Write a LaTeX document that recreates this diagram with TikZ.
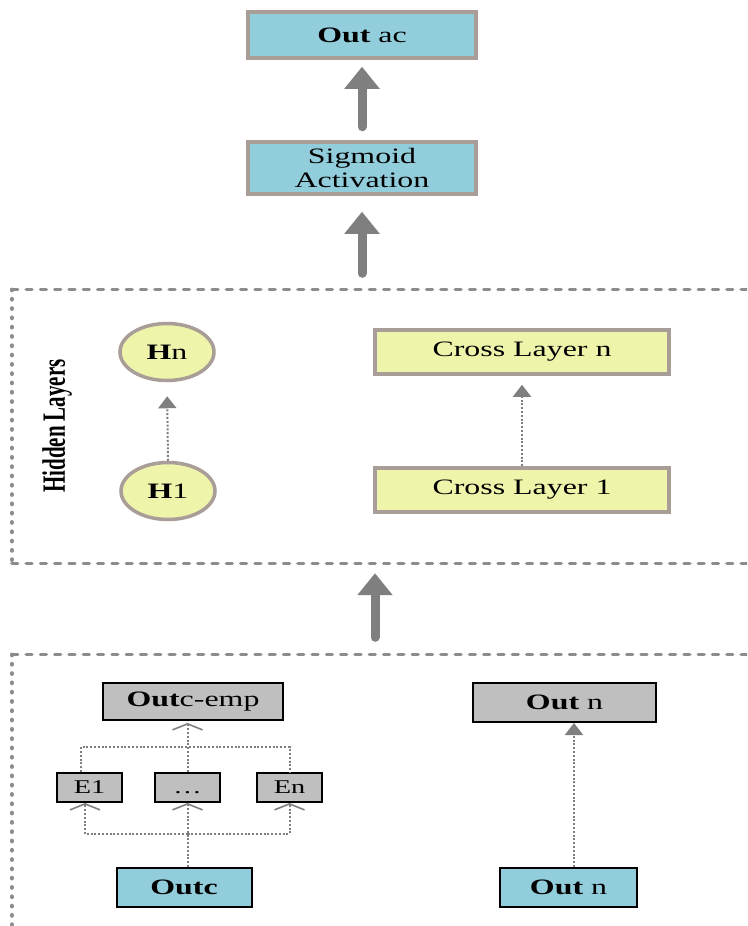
\documentclass[tikz,border=0pt]{standalone}
\usepackage{fontspec}
\setmainfont[FakeStretch=1.45]{Liberation Serif}
\newfontfamily\hlfont[FakeStretch=0.645]{Liberation Serif}
\usetikzlibrary{arrows.meta,shapes.geometric}
\definecolor{boxblue}{HTML}{92CDDC}
\definecolor{tanline}{HTML}{A89E97}
\definecolor{boxyellow}{HTML}{EEF4AA}
\definecolor{boxgray}{HTML}{BFBFBF}
\definecolor{framegray}{HTML}{8C8C8C}
\definecolor{arrowgray}{HTML}{7F7F7F}
\newcommand{\fsz}{\fontsize{22}{24}\selectfont}
\begin{document}
\begin{tikzpicture}[x=1pt,y=-1pt,
  bluetop/.style={draw=tanline, line width=3.5pt, fill=boxblue, inner sep=0pt, font=\fsz, align=center},
  yellowbox/.style={draw=tanline, line width=3.5pt, fill=boxyellow, inner sep=0pt, font=\fsz},
  hnode/.style={ellipse, draw=tanline, line width=3.5pt, fill=boxyellow, inner sep=0pt, minimum width=94pt, minimum height=57pt, font=\fsz},
  graybox/.style={draw=black, line width=2pt, fill=boxgray, inner sep=0pt, font=\fsz},
  smallgray/.style={draw=black, line width=2pt, fill=boxgray, inner sep=0pt, minimum width=65pt, minimum height=29pt, text height=13.5pt, text depth=2pt, font=\fontsize{19.5}{22}\selectfont},
  bluebot/.style={draw=black, line width=2pt, fill=boxblue, inner sep=0pt, font=\fsz},
  framebox/.style={inner sep=0pt},
  hdash/.style={draw=framegray, line width=3.3pt, line cap=round, dash pattern=on 6pt off 8.3pt},
  vdash/.style={draw=framegray, line width=4.5pt, line cap=round, dash pattern=on 0.3pt off 9pt},
  bigarrow/.style={draw=arrowgray, line width=9pt, line cap=round, -{Triangle[width=34pt,length=22pt]}},
  dotline/.style={draw=arrowgray, line width=2pt, dash pattern=on 2pt off 1.8pt},
  dotarrow/.style={dotline, -{Triangle[width=18pt,length=12pt]}},
  chevarrow/.style={-{Straight Barb[width=30pt,length=6pt,line width=1.6pt]}}
]
\useasboundingbox (0,0) rectangle (747,926);
\clip (0,0) rectangle (747,926);
\fill[white] (0,0) rectangle (747,926);

% top boxes
\node[bluetop, minimum width=228pt, minimum height=46pt] (outac) at (362,35) {\textbf{Out} ac};
\node[bluetop, minimum width=228pt, minimum height=52pt] (sig) at (362,168) {Sigmoid\\Activation};

% hidden frame
\node[framebox, minimum width=748pt, minimum height=273pt] (hidden) at (386,426.5) {};
\draw[hdash] (hidden.north west) -- (hidden.north east);
\draw[hdash] (hidden.south west) -- (hidden.south east);
\draw[vdash] (hidden.north west) -- (hidden.south west);

\node[rotate=90, inner sep=0pt, font=\hlfont\bfseries\fontsize{32.5}{36}\selectfont] (hl) at (57,426) {Hidden Layers};

\node[hnode] (hn) at (167,352) {\textbf{H}n};
\node[hnode] (h1) at (168,491) {\textbf{H}1};
\node[yellowbox, minimum width=294pt, minimum height=44pt] (cln) at (522,352) {Cross Layer n};
\node[yellowbox, minimum width=294pt, minimum height=44pt] (cl1) at (522,490) {Cross Layer 1};

\draw[dotarrow, shorten >=14pt] (h1.north) -- (hn.south);
\draw[dotarrow, shorten >=9pt] (cl1.north) -- (cln.south);

% bottom frame
\node[framebox, minimum width=748pt, minimum height=305pt] (bottom) at (386,807.5) {};
\draw[hdash] (bottom.north west) -- (bottom.north east);
\draw[vdash] (bottom.north west) -- (bottom.south west);

% big arrows
\draw[bigarrow, shorten <=13.5pt, shorten >=7pt] (sig.north) -- (outac.south);
\draw[bigarrow, shorten <=16.5pt, shorten >=16pt] (sig.south |- hidden.north) -- (sig.south);
\coordinate (arrx) at (375,0);
\draw[bigarrow, shorten <=17.5pt, shorten >=10pt] (arrx |- bottom.north) -- (arrx |- hidden.south);

% bottom left
\node[graybox, minimum width=180pt, minimum height=37pt] (ocemp) at (193,701.5) {\textbf{Out}c-emp};
\node[smallgray] (e1) at (89.5,787.5) {E1};
\node[smallgray] (dots) at (187.5,787.5) {\dots};
\node[smallgray] (en) at (289.5,787.5) {En};
\node[bluebot, minimum width=135pt, minimum height=39pt] (outc) at (184,887.5) {\textbf{Outc}};

\coordinate (jt) at (187.5,747);
\coordinate (jb) at (187.5,834);
\draw[dotline] ([xshift=-8.5pt]e1.north) |- (jt) -| (en.north);
\draw[dotline, chevarrow, shorten >=2pt] (dots.north) -- (dots.north |- ocemp.south);
\draw[dotline, chevarrow] (outc.north -| dots.south) -- (dots.south);
\draw[dotline, chevarrow] (jb) -| ([xshift=-4.5pt]e1.south);
\draw[dotline, chevarrow] (jb) -| (en.south);

% bottom right
\node[graybox, minimum width=183pt, minimum height=39pt] (outng) at (564.5,702.5) {\textbf{Out} n};
\node[bluebot, minimum width=137pt, minimum height=39pt] (outnb) at (568.5,887.5) {\textbf{Out} n};
\draw[dotarrow] ([xshift=5.5pt]outnb.north) -- ([xshift=5.5pt]outnb.north |- outng.south);
\end{tikzpicture}
\end{document}
